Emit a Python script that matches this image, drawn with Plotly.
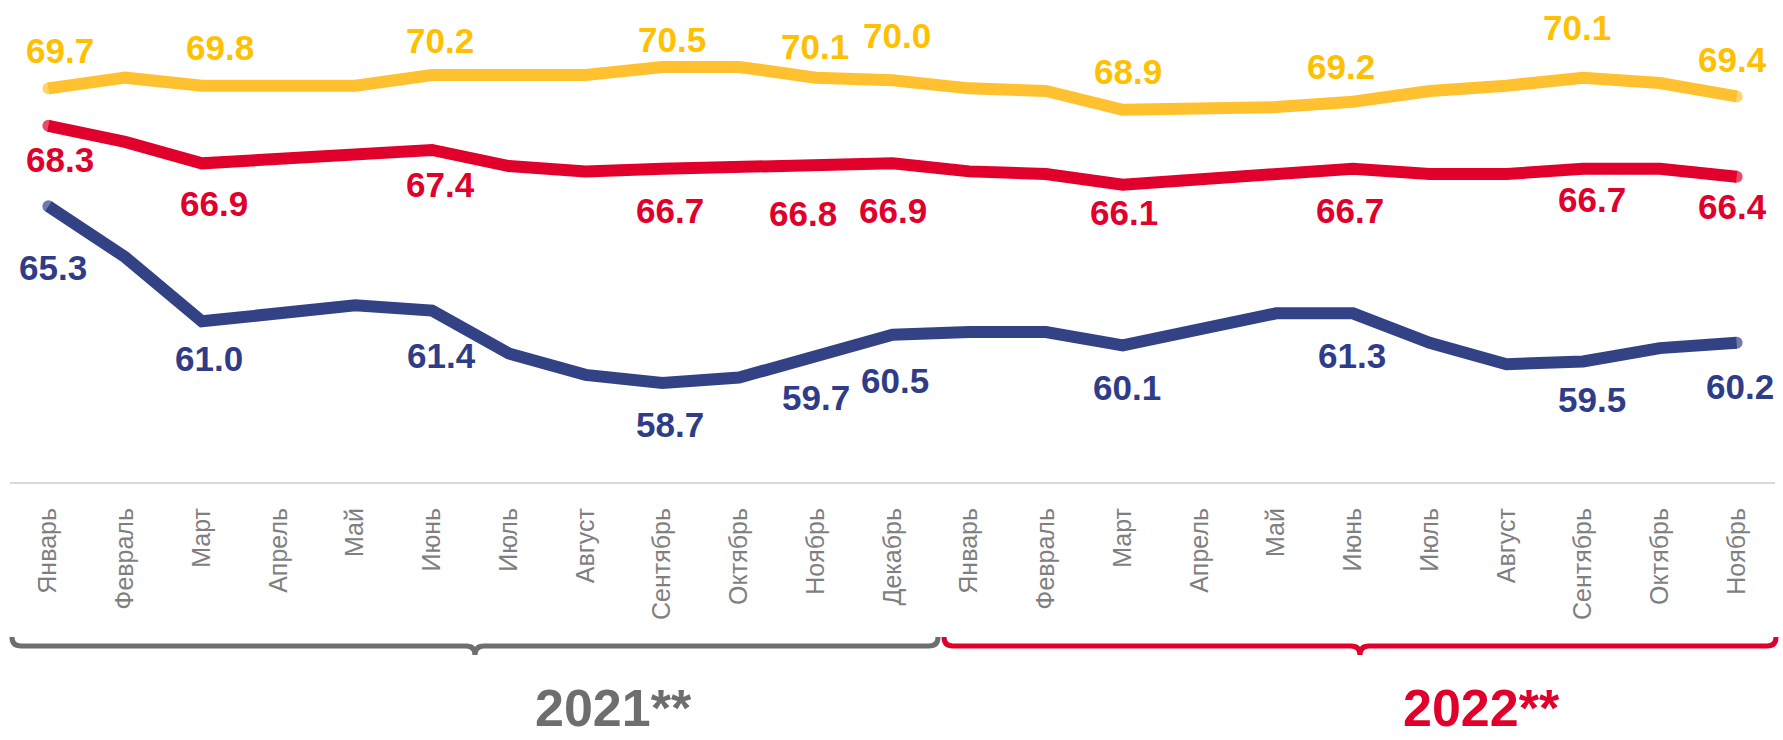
import plotly.graph_objects as go

# ---------------- data ----------------
months = ["Январь", "Февраль", "Март", "Апрель", "Май", "Июнь", "Июль", "Август",
          "Сентябрь", "Октябрь", "Ноябрь", "Декабрь",
          "Январь", "Февраль", "Март", "Апрель", "Май", "Июнь", "Июль", "Август",
          "Сентябрь", "Октябрь", "Ноябрь"]
years = ["2021**", "2022**"]

series_yellow = [69.7, 70.1, 69.8, 69.8, 69.8, 70.2, 70.2, 70.2, 70.5, 70.5, 70.1, 70.0,
                 69.7, 69.6, 68.9, 68.9, 69.0, 69.2, 69.6, 69.8, 70.1, 69.9, 69.4]
series_red = [68.3, 67.7, 66.9, 67.1, 67.2, 67.4, 66.8, 66.6, 66.7, 66.8, 66.8, 66.9,
              66.6, 66.5, 66.1, 66.3, 66.5, 66.7, 66.5, 66.5, 66.7, 66.7, 66.4]
series_navy = [65.3, 63.4, 61.0, 61.3, 61.6, 61.4, 59.8, 59.0, 58.7, 58.9, 59.7, 60.5,
               60.6, 60.6, 60.1, 60.7, 61.3, 61.3, 60.2, 59.4, 59.5, 60.0, 60.2]

labeled_idx = [0, 2, 5, 8, 10, 11, 14, 17, 20, 22]

# ---------------- layout constants ----------------
W, H = 1783, 740
ML, MR, MT, MB = 10, 8, 0, 258
PW, PH = W - ML - MR, H - MT - MB

def xp(px):
    return (px - ML) / PW

def yp(py):
    return (H - MB - py) / PH

# label pixel offsets (dx, dy-down) for each labeled point
off_yellow = [(12, -38), (18, -38), (8, -34), (10, -27), (-1, -31), (4, -45),
              (5, -38), (-12, -35), (-6, -50), (-4, -37)]
off_red = [(12, 34), (12, 40), (8, 35), (8, 42), (-13, 47), (0, 47),
           (1, 28), (-3, 42), (9, 31), (-4, 30)]
off_navy = [(5, 61), (7, 37), (9, 45), (8, 42), (0, 41), (2, 46),
            (4, 42), (-1, 42), (9, 38), (3, 44)]

LINE_W = 12
c_yellow_line, c_yellow_txt = "#FFC12F", "#FFC000"
c_red = "#E0002B"
c_navy_line, c_navy_txt = "#334185", "#2F3C87"
c_gray = "#6E6E6E"

xs = list(range(len(months)))
cap_sizes = [LINE_W] + [0] * (len(months) - 2) + [LINE_W]

fig = go.Figure()
for vals, col in [(series_yellow, c_yellow_line), (series_red, c_red), (series_navy, c_navy_line)]:
    fig.add_trace(go.Scatter(
        x=xs, y=vals, mode="lines+markers",
        line=dict(color=col, width=LINE_W),
        marker=dict(color=col, size=cap_sizes, line=dict(width=0)),
        hoverinfo="skip", showlegend=False, cliponaxis=False,
    ))

annotations = []
for vals, offs, col in [(series_yellow, off_yellow, c_yellow_txt),
                        (series_red, off_red, c_red),
                        (series_navy, off_navy, c_navy_txt)]:
    for i, (dx, dy) in zip(labeled_idx, offs):
        annotations.append(dict(
            x=i, y=vals[i], xref="x", yref="y", text=f"{vals[i]:.1f}",
            showarrow=False, xanchor="center", yanchor="middle",
            xshift=dx, yshift=-dy,
            font=dict(family="Liberation Sans, Arial", size=35, color=col, weight="bold"),
        ))

# year labels
for txt, px, col in [(years[0], 613, c_gray), (years[1], 1481, c_red)]:
    annotations.append(dict(
        x=xp(px), y=yp(739), xref="paper", yref="paper", text=txt,
        showarrow=False, xanchor="center", yanchor="bottom",
        font=dict(family="Liberation Sans, Arial", size=52, color=col, weight="bold"),
    ))

def brace(x0, x1, ytop, yline, ytip, r=9):
    xc = (x0 + x1) / 2
    pts = [
        f"M {xp(x0)},{yp(ytop)}",
        f"Q {xp(x0)},{yp(yline)} {xp(x0 + r)},{yp(yline)}",
        f"L {xp(xc - r)},{yp(yline)}",
        f"Q {xp(xc)},{yp(yline)} {xp(xc)},{yp(ytip)}",
        f"Q {xp(xc)},{yp(yline)} {xp(xc + r)},{yp(yline)}",
        f"L {xp(x1 - r)},{yp(yline)}",
        f"Q {xp(x1)},{yp(yline)} {xp(x1)},{yp(ytop)}",
    ]
    return " ".join(pts)

shapes = [
    dict(type="path", xref="paper", yref="paper", path=brace(12, 938, 637, 646, 655),
         line=dict(color=c_gray, width=5)),
    dict(type="path", xref="paper", yref="paper", path=brace(944, 1776, 637, 646, 655),
         line=dict(color=c_red, width=5)),
]

fig.update_layout(
    width=W, height=H,
    margin=dict(l=ML, r=MR, t=MT, b=MB),
    paper_bgcolor="white", plot_bgcolor="white",
    annotations=annotations, shapes=shapes,
    xaxis=dict(
        range=[-0.5, len(months) - 0.5], tickmode="array", tickvals=xs, ticktext=months,
        tickangle=-90, showgrid=False, zeroline=False,
        showline=True, linecolor="#D9D9D9", linewidth=2,
        ticks="", ticklabelstandoff=14,
        tickfont=dict(family="Liberation Sans, Arial", size=25, color="#7F7F7F"),
    ),
    yaxis=dict(range=[55, 73], visible=False, showgrid=False, zeroline=False),
)

fig.write_html("out.html")
